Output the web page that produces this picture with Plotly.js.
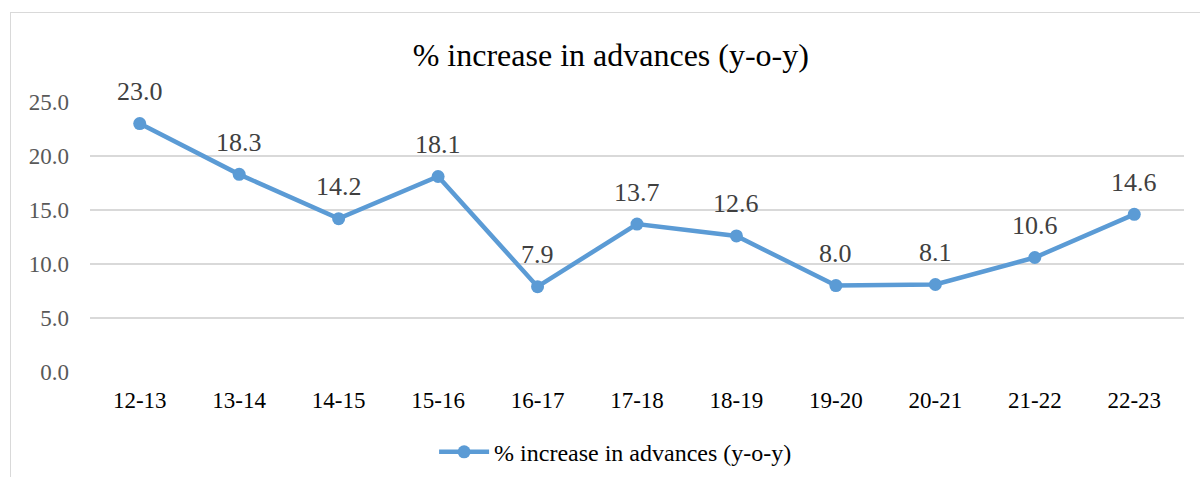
<!DOCTYPE html>
<html>
<head>
<meta charset="utf-8">
<script src="https://cdn.plot.ly/plotly-3.0.1.min.js"></script>
<style>
html,body{margin:0;padding:0;background:#fff;}
#wrap{position:relative;width:1200px;height:477px;overflow:hidden;}
#chart{width:1200px;height:477px;}
#frame{position:absolute;left:10px;top:12px;width:1300px;height:600px;border-left:1px solid #d9d9d9;border-top:1px solid #d9d9d9;pointer-events:none;}
</style>
</head>
<body>
<div id="wrap"><div id="chart"></div><div id="frame"></div></div>
<script>
const categories = ["12-13","13-14","14-15","15-16","16-17","17-18","18-19","19-20","20-21","21-22","22-23"];
const values = [23.0, 18.3, 14.2, 18.1, 7.9, 13.7, 12.6, 8.0, 8.1, 10.6, 14.6];
const yTicks = [0, 5, 10, 15, 20, 25];
const seriesName = "% increase in advances (y-o-y)";
const chartTitle = "% increase in advances (y-o-y)";

const serif = "Liberation Serif";

const trace = {
  x: categories,
  y: values,
  type: "scatter",
  mode: "lines+markers",
  name: seriesName,
  line: {color: "#5B9BD5", width: 4.5},
  marker: {color: "#5B9BD5", size: 13},
  hoverinfo: "x+y"
};

const labels = categories.map((c, i) => ({
  x: c,
  y: values[i],
  xref: "x",
  yref: "y",
  text: values[i].toFixed(1),
  showarrow: false,
  yshift: 32,
  font: {family: serif, size: 26, color: "#404040"}
}));

const layout = {
  width: 1200,
  height: 477,
  margin: {l: 90, r: 16, t: 102, b: 105},
  paper_bgcolor: "#ffffff",
  plot_bgcolor: "#ffffff",
  title: {
    text: chartTitle,
    font: {family: serif, size: 32, color: "#000000"},
    x: 0.509, xref: "container", xanchor: "center",
    y: 0.885, yanchor: "middle"
  },
  annotations: labels,
  xaxis: {
    type: "category",
    range: [-0.5, 10.5],
    showgrid: false,
    zeroline: false,
    showline: false,
    ticks: "",
    tickfont: {family: serif, size: 23, color: "#000000"},
    ticklabelstandoff: 12
  },
  yaxis: {
    range: [0, 25],
    tickvals: yTicks,
    ticktext: yTicks.map(v => v.toFixed(1)),
    showgrid: true,
    gridcolor: "#d9d9d9",
    gridwidth: 1.5,
    zeroline: false,
    showline: false,
    ticks: "",
    tickfont: {family: serif, size: 23, color: "#595959"},
    ticklabelstandoff: 20
  },
  showlegend: true,
  legend: {
    orientation: "h",
    x: 0.513, xref: "container", xanchor: "center",
    y: 0.052, yref: "container", yanchor: "middle",
    font: {family: serif, size: 24, color: "#000000"},
    itemwidth: 50
  }
};

Plotly.newPlot("chart", [trace], layout, {displayModeBar: false, staticPlot: true});
</script>
</body>
</html>
